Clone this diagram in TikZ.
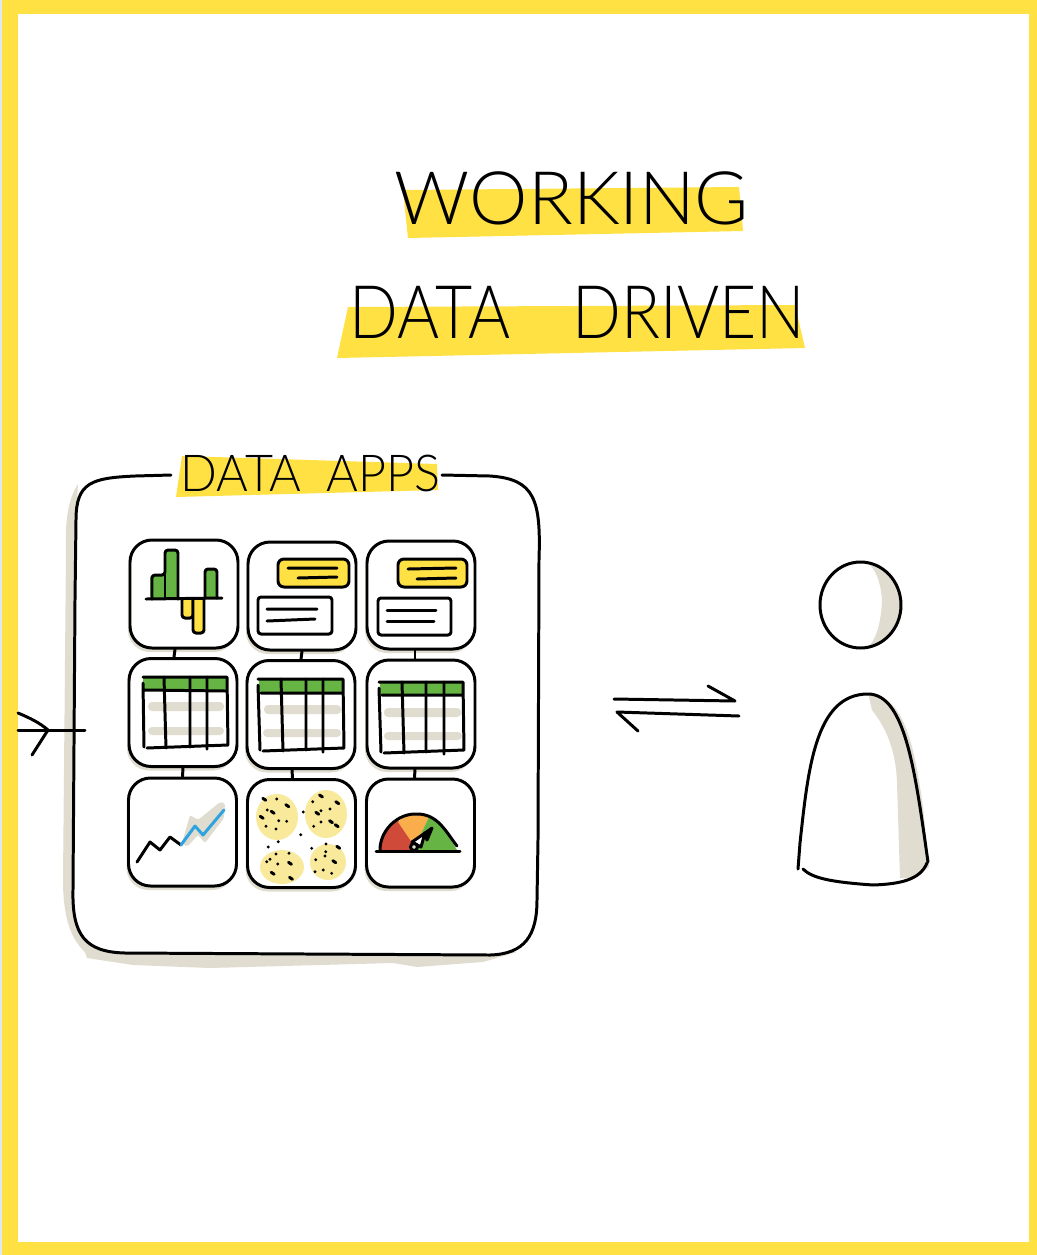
\documentclass[tikz,border=0pt]{standalone}
\usepackage{fontspec}
\usetikzlibrary{shadows}
\setmainfont{Lato}[UprightFont=* Light]

\definecolor{inkyellow}{HTML}{FFE144}
\definecolor{paleyellow}{HTML}{F9E99A}
\definecolor{inkgreen}{HTML}{66B544}
\definecolor{inkgrey}{HTML}{E0DDD0}
\definecolor{inkorange}{HTML}{F9AE4B}
\definecolor{inkred}{HTML}{D04A3A}
\definecolor{inkblue}{HTML}{2EA3E0}
\definecolor{paleblue}{HTML}{DCE8F5}

\tikzset{
	ink/.style={line width=0.85pt, line cap=round, line join=round},
	panel/.style={rectangle, draw, ink, fill=white, rounded corners=0.22cm, minimum width=1.08cm, minimum height=1.08cm,
		drop shadow={shadow xshift=-0.02cm, shadow yshift=-0.04cm, fill=inkgrey, opacity=1}},
	heading/.style={inner sep=0pt, font=\fontsize{21}{21}\selectfont},
	narrowheading/.style={inner sep=0pt, font=\fontsize{21}{21}\selectfont\addfontfeature{FakeStretch=0.87}},
	subheading/.style={inner sep=0pt, font=\fontsize{14.5}{14.5}\selectfont\addfontfeature{FakeStretch=0.95}},
	bar/.style={ink, rounded corners=0.03cm},
}

\begin{document}
\begin{tikzpicture}[x=1cm, y=-1cm]
		\useasboundingbox (0, 0) rectangle (10.37, 12.55);
		\fill[inkyellow] (0, 0) rectangle (10.37, 12.55);
		\fill[paleblue] (0, 0) rectangle (0.02, 12.55);
		\fill[white] (0.18, 0.14) rectangle (10.29, 12.42);

		% title
		\fill[inkyellow] (4.03, 1.90) -- (7.39, 1.87) -- (7.43, 2.31) -- (4.08, 2.38) -- cycle;
		\fill[inkyellow] (3.48, 3.07) -- (7.95, 3.05) -- (8.05, 3.48) -- (3.37, 3.58) -- cycle;
		\draw 
		(5.72, 1.98) node [heading] (WORKING) {WORKING}
		(5.775, 3.12) node [narrowheading] (DRIVEN) {DATA\hspace{0.85em}DRIVEN};

		% frame of the apps
		\fill[inkgrey] (0.78, 4.84) .. controls (0.68, 5.0) and (0.65, 5.2) .. (0.66, 5.5) -- (0.63, 8.8)
			.. controls (0.63, 9.2) and (0.72, 9.4) .. (0.85, 9.52) -- (0.87, 9.58) -- (1.33, 9.65) -- (2.10, 9.68)
			-- (3.93, 9.63) -- (4.17, 9.67) -- (4.83, 9.62) -- (5.17, 9.52) -- (4.40, 9.50) -- (0.95, 9.40)
			.. controls (0.80, 9.2) and (0.74, 9.0) .. (0.74, 8.8) -- (0.77, 5.0) -- cycle;
		\draw[ink, fill=white] (1.71, 4.75) -- (1.35, 4.76) .. controls (0.92, 4.78) and (0.76, 4.82) .. (0.76, 5.20)
			-- (0.75, 6.00) -- (0.73, 8.90) .. controls (0.72, 9.35) and (0.85, 9.52) .. (1.25, 9.53)
			-- (4.90, 9.55) .. controls (5.25, 9.54) and (5.37, 9.35) .. (5.37, 9.00)
			-- (5.38, 8.40) -- (5.39, 5.60) .. controls (5.41, 5.00) and (5.35, 4.79) .. (4.90, 4.76) -- (4.42, 4.75);
		\fill[inkyellow] (1.82, 4.56) -- (4.37, 4.64) -- (4.38, 4.90) -- (1.76, 4.97) -- cycle;
		\draw (3.105, 4.73) node [subheading] (APPS) {DATA\hspace{0.5em}APPS};

		% the nine panels
		\draw 
		(1.84, 5.94) node [panel] (BARS) {}
		(3.02, 5.96) node [panel] (NOTES1) {}
		(4.21, 5.95) node [panel] (NOTES2) {}
		(1.83, 7.125) node [panel] (TABLE1) {}
		(3.01, 7.145) node [panel] (TABLE2) {}
		(4.21, 7.14) node [panel] (TABLE3) {}
		(1.825, 8.32) node [panel] (LINE) {}
		(3.015, 8.335) node [panel] (BLOBS) {}
		(4.205, 8.33) node [panel] (GAUGE) {};
		\draw[ink] ([xshift=-0.09cm]BARS.south) -- ([xshift=-0.09cm]TABLE1.north);
		\draw[ink] (NOTES1.south) -- (TABLE2.north);
		\draw[ink] ([xshift=-0.06cm]NOTES2.south) -- ([xshift=-0.06cm]TABLE3.north);
		\draw[ink] (TABLE1.south) -- (LINE.north);
		\draw[ink] ([xshift=-0.09cm]TABLE2.south) -- ([xshift=-0.09cm]BLOBS.north);
		\draw[ink] ([xshift=-0.06cm]TABLE3.south) -- ([xshift=-0.06cm]GAUGE.north);

		% bars
		\fill[bar, inkgreen] (1.50, 5.99) rectangle (1.64, 5.75);
		\draw[bar, fill=inkgreen] (1.52, 5.99) -- (1.52, 5.75) -- (1.65, 5.75) -- (1.65, 5.50) -- (1.78, 5.50) -- (1.78, 5.99);
		\draw[bar, fill=inkgreen] (2.05, 5.98) -- (2.05, 5.69) -- (2.17, 5.69) -- (2.17, 5.98);
		\draw[bar, fill=inkyellow] (1.82, 5.99) -- (1.82, 6.18) -- (1.93, 6.18) -- (1.93, 5.99);
		\draw[bar, fill=inkyellow] (1.93, 5.99) -- (1.93, 6.33) -- (2.04, 6.33) -- (2.04, 5.99);
		\draw[ink] (1.46, 5.99) -- (2.22, 5.98);
		\draw[ink] (1.65, 5.75) -- (1.65, 5.99);

		% notes
		\draw[ink, fill=inkyellow, rounded corners=0.06cm] (2.78, 5.59) rectangle (3.49, 5.87);
		\draw[ink] (2.88, 5.68) -- (3.37, 5.68) (2.98, 5.78) -- (3.37, 5.77);
		\draw[ink, rounded corners=0.03cm] (2.58, 5.97) rectangle (3.32, 6.34);
		\draw[ink] (2.67, 6.09) -- (3.17, 6.09) (2.67, 6.21) -- (3.15, 6.19);
		\draw[ink, fill=inkyellow, rounded corners=0.06cm] (3.98, 5.59) rectangle (4.67, 5.87);
		\draw[ink] (4.08, 5.69) -- (4.56, 5.68) (4.17, 5.79) -- (4.56, 5.78);
		\draw[ink, rounded corners=0.03cm] (3.78, 5.98) rectangle (4.51, 6.35);
		\draw[ink] (3.87, 6.10) -- (4.36, 6.10) (3.87, 6.21) -- (4.34, 6.21);

		% tables
		\fill[inkgrey, rounded corners=0.04cm] (1.48, 7.02) rectangle (2.24, 7.11);
		\fill[inkgrey, rounded corners=0.04cm] (1.48, 7.27) rectangle (2.24, 7.35);
		\fill[inkgreen] (1.43, 6.78) rectangle (2.26, 6.90);
		\draw[ink] (1.43, 6.77) -- (2.27, 6.77) -- (2.28, 7.45) -- (1.47, 7.48);
		\draw[ink] (1.43, 6.83) -- (1.44, 7.47) (1.45, 6.90) -- (2.26, 6.91);
		\draw[ink] (1.64, 6.77) -- (1.66, 7.48) (1.90, 6.77) -- (1.90, 7.47) (2.07, 6.77) -- (2.07, 7.49);

		\fill[inkgrey, rounded corners=0.04cm] (2.64, 7.05) rectangle (3.41, 7.14);
		\fill[inkgrey, rounded corners=0.04cm] (2.63, 7.29) rectangle (3.41, 7.37);
		\fill[inkgreen] (2.59, 6.80) rectangle (3.42, 6.93);
		\draw[ink] (2.58, 6.79) -- (3.43, 6.79) -- (3.44, 7.48) -- (2.63, 7.51);
		\draw[ink] (2.58, 6.85) -- (2.60, 7.50) (2.61, 6.93) -- (3.42, 6.93);
		\draw[ink] (2.81, 6.79) -- (2.83, 7.51) (3.06, 6.79) -- (3.06, 7.50) (3.23, 6.79) -- (3.23, 7.52);

		\fill[inkgrey, rounded corners=0.04cm] (3.84, 7.08) rectangle (4.61, 7.17);
		\fill[inkgrey, rounded corners=0.04cm] (3.84, 7.32) rectangle (4.62, 7.40);
		\fill[inkgreen] (3.80, 6.83) rectangle (4.62, 6.95);
		\draw[ink] (3.79, 6.82) -- (4.63, 6.82) -- (4.64, 7.50) -- (3.84, 7.53);
		\draw[ink] (3.79, 6.88) -- (3.81, 7.52) (3.82, 6.95) -- (4.62, 6.95);
		\draw[ink] (4.02, 6.82) -- (4.04, 7.53) (4.26, 6.82) -- (4.26, 7.52) (4.44, 6.82) -- (4.44, 7.54);

		% line chart
		\fill[inkgrey, rounded corners=0.02cm] (1.82, 8.43) -- (1.90, 8.15) -- (1.98, 8.20) -- (2.20, 8.02) -- (2.25, 8.03)
			-- (2.24, 8.18) -- (2.05, 8.43) -- (1.98, 8.35) -- (1.87, 8.47) -- cycle;
		\draw[ink] (1.37, 8.62) -- (1.50, 8.42) -- (1.60, 8.50) -- (1.70, 8.37) -- (1.81, 8.45);
		\draw[ink, inkblue] (1.81, 8.45) -- (1.95, 8.26) -- (2.03, 8.35) -- (2.24, 8.10);

		% blobs
		\fill[paleyellow] (2.77, 8.17) ellipse (0.21 and 0.23);
		\fill[paleyellow] (3.26, 8.14) ellipse (0.21 and 0.24);
		\fill[paleyellow] (2.82, 8.67) ellipse (0.22 and 0.17);
		\fill[paleyellow] (3.28, 8.62) ellipse (0.18 and 0.18);
		\foreach \dotx/\doty in {2.767/7.99, 2.673/8.10, 2.787/8.207, 2.867/8.213, 2.66/8.263, 2.76/8.29,
			3.127/8.017, 3.30/8.09, 3.21/8.107, 3.21/8.22, 3.137/8.263,
			3.033/8.12, 3.007/8.347, 2.783/8.417, 2.683/8.47, 3.117/8.483, 3.26/8.44,
			2.76/8.54, 2.89/8.533, 2.70/8.593, 2.667/8.617, 2.777/8.64,
			3.257/8.517, 3.25/8.56, 3.157/8.597, 3.233/8.70, 3.15/8.717, 3.317/8.733}
			\fill (\dotx, \doty) circle (0.016);
		\foreach \dotx/\doty in {2.643/7.993, 2.873/8.057, 2.727/8.123, 2.617/8.173,
			3.21/7.96, 3.373/8.027, 3.173/8.133, 3.31/8.217, 3.367/8.257,
			2.90/8.633, 2.727/8.733, 2.91/8.783, 3.383/8.473, 3.343/8.617}
			\draw[ink] (\dotx - 0.015, \doty - 0.01) -- (\dotx + 0.015, \doty + 0.01);

		% gauge
		\fill[inkred] (3.80, 8.50) .. controls (3.82, 8.32) and (3.90, 8.24) .. (3.98, 8.20) -- (4.13, 8.44) -- (4.13, 8.50) -- cycle;
		\fill[inkorange] (3.98, 8.22) .. controls (4.05, 8.14) and (4.22, 8.12) .. (4.29, 8.17) -- (4.18, 8.40) -- (4.13, 8.44) -- cycle;
		\fill[inkgreen] (4.29, 8.17) .. controls (4.38, 8.20) and (4.48, 8.35) .. (4.57, 8.50) -- (4.18, 8.50) -- (4.18, 8.40) -- cycle;
		\draw[ink] (3.80, 8.50) .. controls (3.80, 8.30) and (3.98, 8.13) .. (4.17, 8.14)
			.. controls (4.38, 8.14) and (4.46, 8.32) .. (4.57, 8.46);
		\draw[ink] (3.76, 8.51) -- (4.60, 8.51);
		\draw[ink, fill=white] (4.12, 8.42) -- (4.25, 8.33) -- (4.21, 8.47) -- cycle;
		\draw[ink, fill=black] (4.25, 8.33) -- (4.32, 8.28) -- (4.27, 8.40) -- cycle;
		\draw[ink, fill=inkgrey] (4.14, 8.47) circle (0.035);

		% arrow into the frame
		\coordinate (INLEFT) at (0.18, 7.30);
		\coordinate (INRIGHT) at (0.85, 7.30);
		\coordinate (INTIP) at (0.48, 7.30);
		\draw[ink] (INLEFT) -- (INRIGHT);
		\draw[ink] (0.18, 7.13) .. controls (0.30, 7.18) and (0.40, 7.23) .. (INTIP) -- (0.32, 7.55);

		% arrows towards the person
		\coordinate (OUTLEFT) at (6.14, 6.99);
		\coordinate (OUTRIGHT) at (7.35, 7.01);
		\coordinate (BACKRIGHT) at (7.39, 7.16);
		\coordinate (BACKLEFT) at (6.17, 7.12);
		\draw[ink] (OUTLEFT) -- (OUTRIGHT) -- (7.08, 6.86);
		\draw[ink] (BACKRIGHT) -- (BACKLEFT) -- (6.38, 7.31);

		% person
		\fill[inkgrey] (8.70, 5.65) .. controls (8.93, 5.72) and (9.01, 5.90) .. (9.01, 6.05)
			.. controls (9.01, 6.25) and (8.90, 6.42) .. (8.70, 6.45)
			.. controls (8.78, 6.35) and (8.81, 6.20) .. (8.82, 6.00)
			.. controls (8.81, 5.85) and (8.77, 5.72) .. (8.70, 5.65) -- cycle;
		\draw[ink] (8.605, 6.05) ellipse (0.405 and 0.43);
		\fill[inkgrey] (8.69, 6.97) -- (8.72, 7.10) .. controls (8.86, 7.28) and (8.96, 7.50) .. (8.97, 7.83) -- (9.00, 8.78)
			-- (9.13, 8.78) -- (9.29, 8.67) -- (9.23, 8.07) .. controls (9.15, 7.50) and (9.05, 6.94) .. (8.68, 6.94) -- cycle;
		\draw[ink] (7.98, 8.69) -- (8.00, 8.43) .. controls (8.08, 7.70) and (8.15, 6.94) .. (8.68, 6.94)
			.. controls (9.05, 6.94) and (9.15, 7.70) .. (9.28, 8.62);
		\draw[ink] (8.03, 8.69) .. controls (8.12, 8.78) and (8.30, 8.82) .. (8.73, 8.85)
			.. controls (9.00, 8.84) and (9.20, 8.80) .. (9.27, 8.63);
	\end{tikzpicture}
\end{document}
